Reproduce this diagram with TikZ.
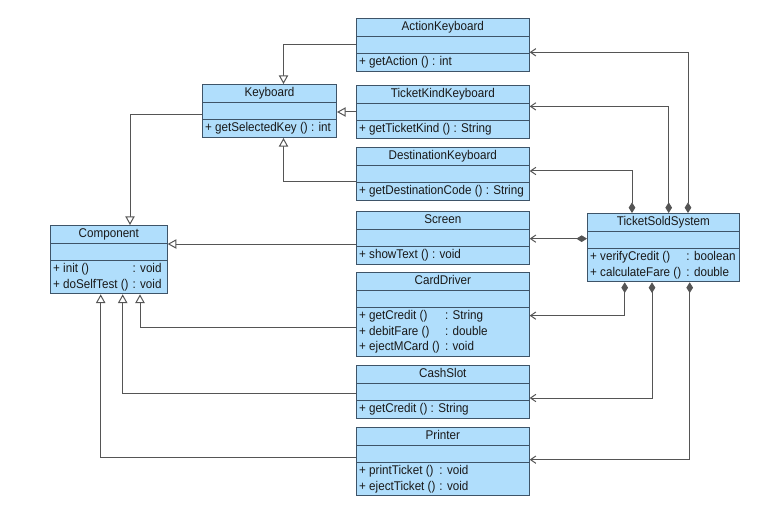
\documentclass[tikz,border=0pt]{standalone}
\usepackage{fontspec}
\setmainfont{Liberation Sans}[FakeStretch=0.92]
\usetikzlibrary{shapes.multipart,arrows.meta,calc}

\definecolor{classfill}{RGB}{176,222,252}
\definecolor{classline}{RGB}{62,84,104}
\definecolor{linkline}{RGB}{85,85,85}

% title, empty attribute part, operations
\newcommand{\umlbody}[3]{\makebox[#1]{\strut #2}\nodepart{two}\nodepart{three}\makebox[#1][l]{#3}}

\begin{document}
\begin{tikzpicture}[x=0.75pt,y=-0.75pt,
    umlclass/.style={rectangle split,rectangle split parts=3,draw=classline,fill=classfill,
        line width=0.75pt,inner xsep=2pt,inner ysep=0.5pt,anchor=north west,
        rectangle split empty part height=8.05pt,rectangle split empty part depth=3.45pt,
        font=\fontsize{9.5}{11.5}\selectfont,text=black!90},
    inherit/.style={draw=linkline,line width=0.75pt,-{Triangle[length=6.5pt,width=7pt,fill=white]}},
    assoc/.style={draw=linkline,line width=0.75pt,{Diamond[length=8pt,width=5pt]}-{Straight Barb[length=4pt,width=5.5pt]}}]
    \useasboundingbox (0,0) rectangle (762,513);

    \node[umlclass] (action) at (356,18) {\umlbody{125.5pt}{ActionKeyboard}{\strut + getAction () : int}};
    \node[umlclass] (tkind) at (356,85) {\umlbody{125.5pt}{TicketKindKeyboard}{\strut + getTicketKind () : String}};
    \node[umlclass] (dest) at (356,147) {\umlbody{125.5pt}{DestinationKeyboard}{\strut + getDestinationCode () : String}};
    \node[umlclass] (screen) at (356,211) {\umlbody{125.5pt}{Screen}{\strut + showText () : void}};
    \node[umlclass] (card) at (356,272) {\umlbody{125.5pt}{CardDriver}{\begin{tabular}{@{}l@{\hspace{4pt}}l@{}}+ getCredit () & : String\\+ debitFare () & : double\\+ ejectMCard () & : void\end{tabular}}};
    \node[umlclass] (cash) at (356,365) {\umlbody{125.5pt}{CashSlot}{\strut + getCredit () : String}};
    \node[umlclass] (printer) at (356,427) {\umlbody{125.5pt}{Printer}{\begin{tabular}{@{}l@{\hspace{3pt}}l@{}}+ printTicket () & : void\\+ ejectTicket () & : void\end{tabular}}};
    \node[umlclass] (keyboard) at (202,84) {\umlbody{96.5pt}{Keyboard}{\strut + getSelectedKey () : int}};
    \node[umlclass] (component) at (50,225) {\umlbody{83.5pt}{Component}{\begin{tabular}{@{}l@{\hspace{3pt}}l@{}}+ init () & : void\\+ doSelfTest () & : void\end{tabular}}};
    \node[umlclass] (system) at (587,213) {\umlbody{109.8pt}{TicketSoldSystem}{\begin{tabular}{@{}l@{\hspace{4pt}}l@{}}+ verifyCredit () & : boolean\\+ calculateFare () & : double\end{tabular}}};

    % generalization
    \draw[inherit] (action.west) -| ($(keyboard.north west)+(81.5,0)$);
    \draw[inherit] (tkind.west) -- (tkind.west -| keyboard.east);
    \draw[inherit] ($(dest.west)+(0,8)$) -| ($(keyboard.south west)+(81.5,0)$);
    \draw[inherit] ($(keyboard.west)+(0,4)$) -| ($(component.north west)+(80,0)$);
    \coordinate (screen-gen) at ($(screen.west)+(0,6)$);
    \draw[inherit] (screen-gen) -- (screen-gen -| component.east);
    \draw[inherit] ($(card.west)+(0,13.5)$) -| ($(component.south west)+(90,0)$);
    \draw[inherit] ($(cash.west)+(0,1)$) -| ($(component.south west)+(72.7,0)$);
    \draw[inherit] ($(printer.west)+(0,-4)$) -| ($(component.south west)+(50.7,0)$);

    % composition
    \draw[assoc] ($(system.north west)+(45,0)$) |- ($(dest.east)+(0,-3)$);
    \draw[assoc] ($(system.north west)+(81.7,0)$) |- ($(tkind.east)+(0,-5.6)$);
    \draw[assoc] ($(system.north west)+(101,0)$) |- ($(action.east)+(0,7.3)$);
    \coordinate (system-screen) at ($(system.west)+(0,-9)$);
    \draw[assoc] (system-screen) -- (system-screen -| screen.east);
    \draw[assoc] ($(system.south west)+(37.7,0)$) |- ($(card.east)+(0,1.3)$);
    \draw[assoc] ($(system.south west)+(65,0)$) |- ($(cash.east)+(0,6)$);
    \draw[assoc] ($(system.south west)+(102.7,0)$) |- ($(printer.east)+(0,-2)$);
\end{tikzpicture}
\end{document}
